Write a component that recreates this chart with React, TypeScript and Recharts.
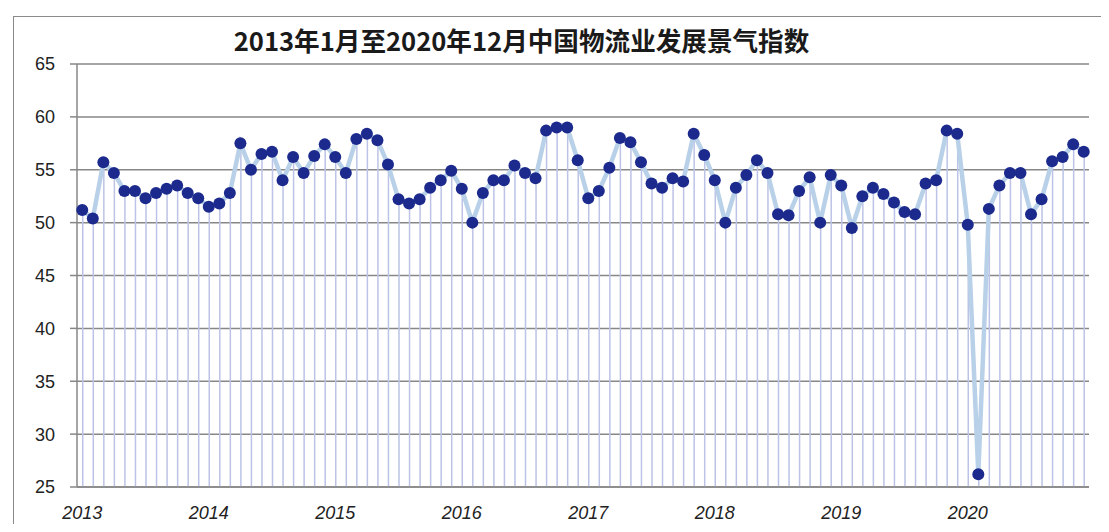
import React from "react";
import {
  ComposedChart,
  Bar,
  Line,
  CartesianGrid,
  XAxis,
  YAxis,
} from "recharts";

// 中国物流业景气指数 (LPI), 月度
const years = ["2013", "2014", "2015", "2016", "2017", "2018", "2019", "2020"];

const lpi2013 = [51.2, 50.4, 55.7, 54.7, 53.0, 53.0, 52.3, 52.8, 53.2, 53.5, 52.8, 52.3];
const lpi2014 = [51.5, 51.8, 52.8, 57.5, 55.0, 56.5, 56.7, 54.0, 56.2, 54.7, 56.3, 57.4];
const lpi2015 = [56.2, 54.7, 57.9, 58.4, 57.8, 55.5, 52.2, 51.8, 52.2, 53.3, 54.0, 54.9];
const lpi2016 = [53.2, 50.0, 52.8, 54.0, 54.0, 55.4, 54.7, 54.2, 58.7, 59.0, 59.0, 55.9];
const lpi2017 = [52.3, 53.0, 55.2, 58.0, 57.6, 55.7, 53.7, 53.3, 54.2, 53.9, 58.4, 56.4];
const lpi2018 = [54.0, 50.0, 53.3, 54.5, 55.9, 54.7, 50.8, 50.7, 53.0, 54.3, 50.0, 54.5];
const lpi2019 = [53.5, 49.5, 52.5, 53.3, 52.7, 51.9, 51.0, 50.8, 53.7, 54.0, 58.7, 58.4];
const lpi2020 = [49.8, 26.2, 51.3, 53.5, 54.7, 54.7, 50.8, 52.2, 55.8, 56.2, 57.4, 56.7];

const yTicks = [25, 30, 35, 40, 45, 50, 55, 60, 65];

const byYear = [lpi2013, lpi2014, lpi2015, lpi2016, lpi2017, lpi2018, lpi2019, lpi2020];

// 拼成 recharts 需要的表格
const data = byYear.flatMap((vals, yi) =>
  vals.map((v, mi) => ({
    month: `${years[yi]}-${String(mi + 1).padStart(2, "0")}`,
    value: v,
  }))
);

const TITLE = "2013年1月至2020年12月中国物流业发展景气指数";

export default function App() {
  return (
    <div
      style={{
        position: "relative",
        width: 1109,
        height: 532,
        margin: -8,
        overflow: "hidden",
        background: "#fff",
      }}
    >
      {/* 外框 */}
      <div
        style={{
          position: "absolute",
          left: 13,
          top: 16,
          width: 1200,
          height: 700,
          borderLeft: "1.5px solid #8a8a8a",
          borderTop: "1.5px solid #8a8a8a",
        }}
      />

      <div
        style={{
          position: "absolute",
          left: 0,
          top: 24,
          width: 1043,
          textAlign: "center",
          fontFamily: "'Noto Sans CJK SC', sans-serif",
          fontWeight: 700,
          fontSize: 25.6,
          lineHeight: "32px",
          color: "#1a1a1a",
        }}
      >
        {TITLE}
      </div>

      <div style={{ position: "absolute", left: 0, top: 0 }}>
        <ComposedChart
          width={1109}
          height={532}
          data={data}
          margin={{ top: 64, right: 20, bottom: 0, left: 0 }}
          barCategoryGap={0}
        >
          <CartesianGrid vertical={false} stroke="#878787" strokeWidth={1.5} />
          <XAxis
            dataKey="month"
            interval={11}
            tickFormatter={(m: string) => m.slice(0, 4)}
            tickLine={false}
            tickSize={0}
            tickMargin={19}
            height={45}
            axisLine={{ stroke: "#878787", strokeWidth: 1.5 }}
            tick={{
              fill: "#222",
              fontSize: 18,
              fontStyle: "italic",
              fontFamily: "'Liberation Sans', Arial, sans-serif",
            }}
          />
          <YAxis
            domain={[25, 65]}
            ticks={yTicks}
            width={77}
            tickSize={7}
            tickMargin={15}
            axisLine={{ stroke: "#878787", strokeWidth: 1.5 }}
            tickLine={{ stroke: "#878787", strokeWidth: 1.5 }}
            tick={{
              fill: "#222",
              fontSize: 18,
              fontFamily: "'Liberation Sans', Arial, sans-serif",
            }}
            allowDataOverflow
          />
          <Bar
            dataKey="value"
            barSize={1.5}
            fill="#bcc3e6"
            isAnimationActive={false}
          />
          <Line
            type="linear"
            dataKey="value"
            stroke="#b9d1e8"
            strokeWidth={4.5}
            dot={{ r: 6, fill: "#1b2a8c", stroke: "none" }}
            activeDot={false}
            isAnimationActive={false}
          />
        </ComposedChart>
      </div>
    </div>
  );
}
